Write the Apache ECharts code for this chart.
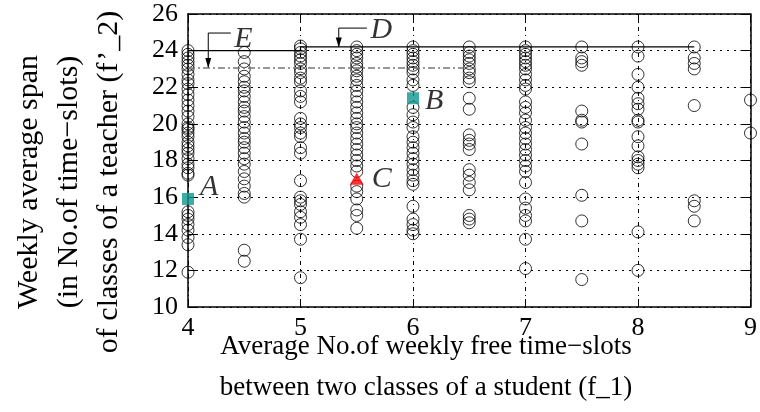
<!DOCTYPE html>
<html><head><meta charset="utf-8">
<script src="https://cdn.jsdelivr.net/npm/echarts@6/dist/echarts.min.js"></script>
<style>html,body{margin:0;padding:0;background:#fff}#c{width:760px;height:412px}</style>
</head><body><div id="c"></div><script>
const FONT = "'Liberation Serif','DejaVu Serif',serif";
const xTicks = [4, 5, 6, 7, 8, 9];
const yTicks = [10, 12, 14, 16, 18, 20, 22, 24, 26];
const xColumns = [4, 4.5, 5, 5.5, 6, 6.5, 7, 7.5, 8, 8.5, 9];
const y_4   = [24.0,23.8,23.6,23.4,23.2,23.0,22.7,22.4,22.2,21.9,21.6,21.3,21.0,20.7,20.4,20.0,19.8,19.7,19.5,19.3,19.0,18.8,18.6,18.4,18.1,17.8,17.6,17.3,17.2,15.2,15.0,14.8,14.5,14.2,13.8,13.4,11.9];
const y_4_5 = [23.9,23.4,23.0,22.6,22.3,22.0,21.8,21.5,21.2,20.9,20.7,20.4,20.1,19.8,19.5,19.2,19.0,18.7,18.4,18.1,17.8,17.4,17.0,16.6,16.2,16.0,13.1,12.5];
const y_5   = [24.25,24.1,23.9,23.7,23.5,23.3,23.0,22.8,22.5,22.3,21.8,21.5,21.2,20.3,20.0,19.8,19.5,19.3,18.7,18.4,16.9,16.0,15.8,15.6,15.2,14.9,14.5,13.7,11.6];
const y_5_5 = [24.2,24.0,23.8,23.6,23.3,23.1,22.9,22.6,22.4,22.1,21.8,21.5,21.2,20.9,20.6,20.3,20.0,19.8,19.5,19.2,18.9,18.6,18.3,18.0,17.7,17.4,16.6,16.3,15.9,15.3,15.0,14.3];
const y_6   = [24.2,24.0,23.8,23.6,23.4,23.2,23.0,22.8,22.4,22.1,20.9,20.5,20.1,19.8,19.3,19.0,18.7,18.4,18.1,17.8,17.5,17.2,16.9,16.7,15.5,14.8,14.5,14.2,14.0];
const y_6_5 = [24.2,23.9,23.7,23.5,23.3,23.0,22.8,22.5,22.3,21.4,20.8,19.4,19.1,18.9,18.6,17.5,17.2,16.8,16.4,15.0,14.8,14.6];
const y_7   = [24.2,24.0,23.8,23.6,23.4,23.2,23.0,22.7,22.4,22.1,21.9,21.2,20.9,20.6,20.2,19.8,19.5,19.2,18.9,18.6,18.3,18.0,17.7,17.4,16.8,15.9,15.4,15.0,14.7,13.7,12.1];
const y_7_5 = [24.2,23.6,23.4,23.2,20.7,20.2,20.1,18.9,16.1,14.7,11.5];
const y_8   = [24.2,23.7,22.7,22.0,21.4,21.1,20.8,20.2,20.1,19.3,18.8,18.2,18.0,17.8,17.6,14.1,12.0];
const y_8_5 = [24.2,23.6,23.3,23.0,21.0,15.8,15.5,14.7];
const y_9   = [21.3,19.5];
const columnValues = [y_4, y_4_5, y_5, y_5_5, y_6, y_6_5, y_7, y_7_5, y_8, y_8_5, y_9];

const squarePoints = [[4, 15.9, 'A'], [6, 21.4, 'B']];
const trianglePoints = [[5.5, 17.0, 'C']];
const frontD_x = [4, 5, 5, 8.5];
const frontD_y = [24.0, 24.0, 24.2, 24.2];
const lineE_x = [4, 6.45];
const lineE_y = [23.05, 23.05];
const leaderD = [[5.59, 25.23], [5.34, 25.23], [5.34, 24.22]];
const leaderE = [[4.38, 24.96], [4.18, 24.96], [4.18, 23.1]];

const circles = [];
xColumns.forEach((x, i) => columnValues[i].forEach(v => circles.push([x, v])));

const chart = echarts.init(document.getElementById('c'), null, {renderer: 'canvas'});
const axisText = {color: '#000', fontFamily: FONT, fontSize: 26};
const labStyle = {color: '#000', fontFamily: FONT, fontSize: 30, fontStyle: 'italic'};

function leader(pts) {
  return {
    type: 'line', z: 6, silent: true,
    data: pts.map((p, i) => {
      const d = {value: p, symbol: 'none'};
      if (i === pts.length - 1) {
        d.symbol = 'triangle'; d.symbolSize = [6, 10]; d.symbolRotate = 180; d.symbolOffset = [0, -4];
      }
      return d;
    }),
    lineStyle: {color: '#000', width: 1},
    itemStyle: {color: '#000'}
  };
}
function tag(p, name, dy) {
  return {
    type: 'scatter', z: 7, silent: true, symbol: 'circle', symbolSize: 1,
    itemStyle: {color: 'rgba(0,0,0,0)'},
    data: [{value: p, name: name}],
    label: {show: true, position: 'right', distance: 3, offset: [0, dy], formatter: name, ...labStyle}
  };
}

chart.setOption({
  animation: false,
  grid: {left: 188, right: 8, top: 14, bottom: 105},
  xAxis: [{
    type: 'value', min: 4, max: 9, interval: 1,
    axisLine: {show: true, onZero: false, lineStyle: {color: '#000', width: 1.5}},
    axisTick: {show: true, inside: true, length: 8, lineStyle: {color: '#000'}},
    axisLabel: {...axisText, margin: 8, formatter: v => xTicks.includes(v) ? String(v) : ''},
    splitLine: {show: true, lineStyle: {color: '#000', width: 1, type: [4, 4, 1, 4]}}
  }, {
    type: 'value', min: 4, max: 9, interval: 1, position: 'top',
    axisLine: {show: true, onZero: false, lineStyle: {color: '#000', width: 1.5}},
    axisTick: {show: true, inside: true, length: 8, lineStyle: {color: '#000'}},
    axisLabel: {show: false}, splitLine: {show: false}
  }],
  yAxis: [{
    type: 'value', min: 10, max: 26, interval: 2,
    axisLine: {show: true, onZero: false, lineStyle: {color: '#000', width: 1.5}},
    axisTick: {show: true, inside: true, length: 10, lineStyle: {color: '#000'}},
    axisLabel: {...axisText, margin: 10, formatter: v => yTicks.includes(v) ? String(v) : ''},
    splitLine: {show: true, lineStyle: {color: '#000', width: 1, type: [2, 5]}}
  }, {
    type: 'value', min: 10, max: 26, interval: 2, position: 'right',
    axisLine: {show: true, onZero: false, lineStyle: {color: '#000', width: 1.5}},
    axisTick: {show: true, inside: true, length: 10, lineStyle: {color: '#000'}},
    axisLabel: {show: false}, splitLine: {show: false}
  }],
  graphic: [{
    type: 'text', z: 10,
    x: 426, y: 367,
    style: {text: 'Average No.of weekly free time\u2212slots\nbetween two classes of a student (f_1)',
      fill: '#000', font: '27px ' + FONT, align: 'center', verticalAlign: 'middle', lineHeight: 41}
  }, {
    type: 'text', z: 10,
    x: 69, y: 182, rotation: Math.PI / 2,
    style: {text: 'Weekly average span\n(in No.of time\u2212slots)\nof classes of a teacher (f\u2019_2)',
      fill: '#000', font: '30px ' + FONT, align: 'center', verticalAlign: 'middle', lineHeight: 40}
  }],
  series: [{
    type: 'scatter', data: circles, symbol: 'circle', symbolSize: 12, clip: false, z: 3,
    itemStyle: {color: 'rgba(0,0,0,0)', borderColor: '#000', borderWidth: 1}
  }, {
    type: 'line', data: frontD_x.map((x, i) => [x, frontD_y[i]]), symbol: 'none', z: 5,
    lineStyle: {color: '#000', width: 1.2}
  }, {
    type: 'line', data: lineE_x.map((x, i) => [x, lineE_y[i]]), symbol: 'none', z: 5,
    lineStyle: {color: '#777', width: 1.5, type: [7, 3, 2, 3]}
  },
  leader(leaderD),
  leader(leaderE),
  tag(leaderD[0], 'D', 2),
  tag(leaderE[0], 'E', 6),
  {
    type: 'scatter', symbol: 'rect', symbolSize: 12, z: 8,
    itemStyle: {color: '#0b978d'},
    data: [
      {value: [squarePoints[0][0], squarePoints[0][1]], name: squarePoints[0][2], label: {offset: [0, -12]}},
      {value: [squarePoints[1][0], squarePoints[1][1]], name: squarePoints[1][2], label: {offset: [0, 3]}}
    ],
    label: {show: true, formatter: p => p.name, position: 'right', distance: 6, ...labStyle}
  }, {
    type: 'scatter', data: trianglePoints.map(p => ({value: [p[0], p[1]], name: p[2]})),
    symbol: 'triangle', symbolSize: [14, 12], z: 8,
    itemStyle: {color: '#ff0000'},
    label: {show: true, formatter: p => p.name, position: 'right', distance: 8, ...labStyle}
  }]
});
</script></body></html>
